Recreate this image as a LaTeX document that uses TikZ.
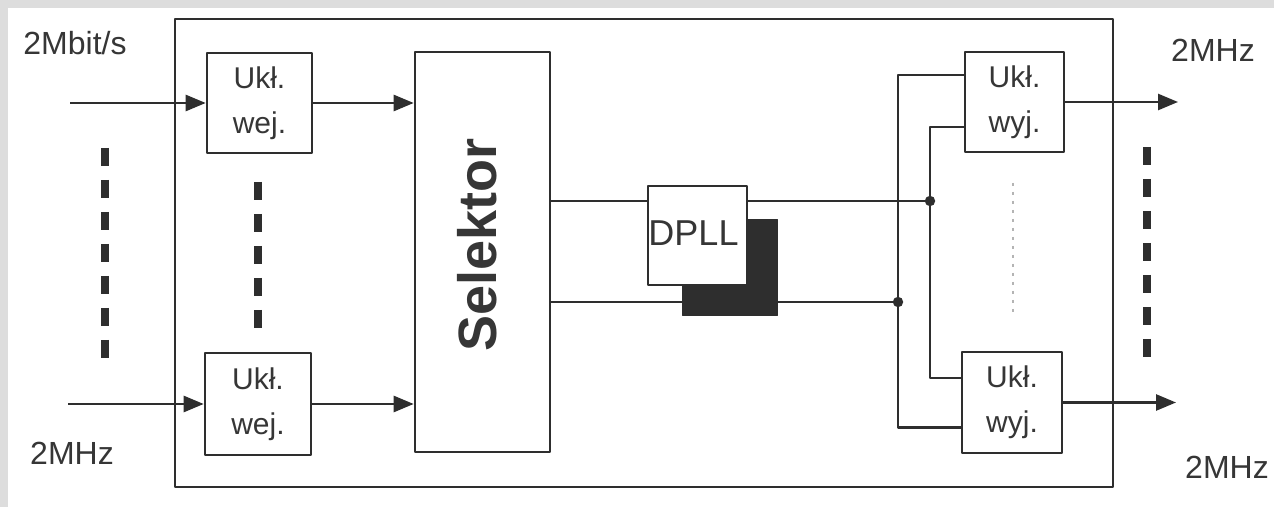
\documentclass[tikz,border=0pt]{standalone}
\usepackage{fontspec}
\setmainfont{Liberation Sans}
\usetikzlibrary{arrows.meta, positioning, calc}
\definecolor{sline}{HTML}{2E2E2E}
\definecolor{stext}{HTML}{363636}
\definecolor{sback}{HTML}{DDDDDD}
\definecolor{sfaint}{HTML}{B4B4B4}
\tikzset{
  blk/.style={draw=sline, line width=1.3pt, fill=white, inner sep=0pt,
              text=stext, align=center, font=\fontsize{15}{22.5}\selectfont},
  wire/.style={line width=1.3pt, sline},
  arr/.style={-{Triangle[length=10pt,width=8pt]}, line width=1.3pt, sline},
  vdots/.style={sline, line width=4.2pt, dash pattern=on 9pt off 7pt},
  lbl/.style={text=stext, inner sep=0pt, font=\fontsize{16}{18}\selectfont},
}

\begin{document}
\begin{tikzpicture}[x=0.5pt, y=-0.5pt, line join=round]
  %% ── page ──
  \useasboundingbox (0,0) rectangle (1274,507);
  \fill[sback] (0,0) rectangle (1274,507);
  \fill[white] (8,8) rectangle (1274,507);

  %% ── frame ──
  \draw[wire] (175,19) rectangle (1113,487);

  %% ── blocks ──
  \node[blk, minimum width=52.5pt, minimum height=50pt] (wejA) at (259.5,103) {Ukł.\\wej.};
  \node[blk, minimum width=53pt, minimum height=51pt] (wejB) at (258,404) {Ukł.\\wej.};
  \node[blk, minimum width=67.5pt, minimum height=200pt] (sel) at (482.5,252) {};
  \node[lbl, rotate=90, font=\bfseries\fontsize{27}{30}\selectfont] (selTxt) at (477,245) {Selektor};
  \node[blk, minimum width=49.5pt, minimum height=50pt] (wyjA) at (1014.5,102) {Ukł.\\wyj.};
  \node[blk, minimum width=50pt, minimum height=50.5pt] (wyjB) at (1012,402.5) {Ukł.\\wyj.};

  % junctions
  \coordinate (jA) at (930,201);
  \coordinate (jB) at (898,302);

  % lower line goes under the shadow
  \draw[wire] (jB -| sel.east) -- (jB);
  \node[fill=sline, draw=sline, minimum width=47.5pt, minimum height=48pt, inner sep=0pt] (dpllSh) at (729.5,267) {};
  \node[blk, minimum width=49.5pt, minimum height=49.5pt, font=\fontsize{18}{20}\selectfont] (dpll) at (697.5,235.5) {\raisebox{2pt}{\hspace*{-4pt}DPLL}};

  %% ── inputs ──
  \coordinate (inA) at (70,103);
  \coordinate (inB) at (68,404);
  \draw[arr] (inA) -- (inA -| wejA.west);
  \draw[arr] (inB) -- (inB -| wejB.west);
  \draw[arr] (wejA.east) -- (wejA.east -| sel.west);
  \draw[arr] (wejB.east) -- (wejB.east -| sel.west);

  %% ── selector to DPLL and outputs ──
  \draw[wire] (jA -| sel.east) -- (jA -| dpll.west);
  \draw[wire] (jA -| dpll.east) -- (jA);
  \draw[wire] ([yshift=13.5pt]wyjA.west) -| (jB) |- ([yshift=-12.5pt]wyjB.west);
  \draw[wire] ([yshift=-12.5pt]wyjA.west) -| (jA) |- ([yshift=12.25pt]wyjB.west);
  \fill[sline] (jA) circle (2.6pt);
  \fill[sline] (jB) circle (2.6pt);

  \coordinate (outA) at (1178,101);
  \coordinate (outB) at (1176,403);
  \draw[arr] (wyjA.east) -- (wyjA.east -| outA);
  \draw[arr] (wyjB.east) -- (wyjB.east -| outB);

  %% ── dots ──
  \draw[vdots] (105,148) -- (105,358);
  \draw[vdots] (258,182) -- (258,328);
  \draw[vdots] (1147,147) -- (1147,357);
  \draw[sfaint, line width=0.9pt, dash pattern=on 1.5pt off 3pt] (1013,183) -- (1013,313);

  %% ── labels ──
  \node[lbl] (lblIn) at (75,43) {2Mbit/s};
  \node[lbl] (lblClkIn) at (72,453) {2MHz};
  \node[lbl] (lblOutA) at (1213,50) {2MHz};
  \node[lbl] (lblOutB) at (1227,467) {2MHz};
\end{tikzpicture}
\end{document}
